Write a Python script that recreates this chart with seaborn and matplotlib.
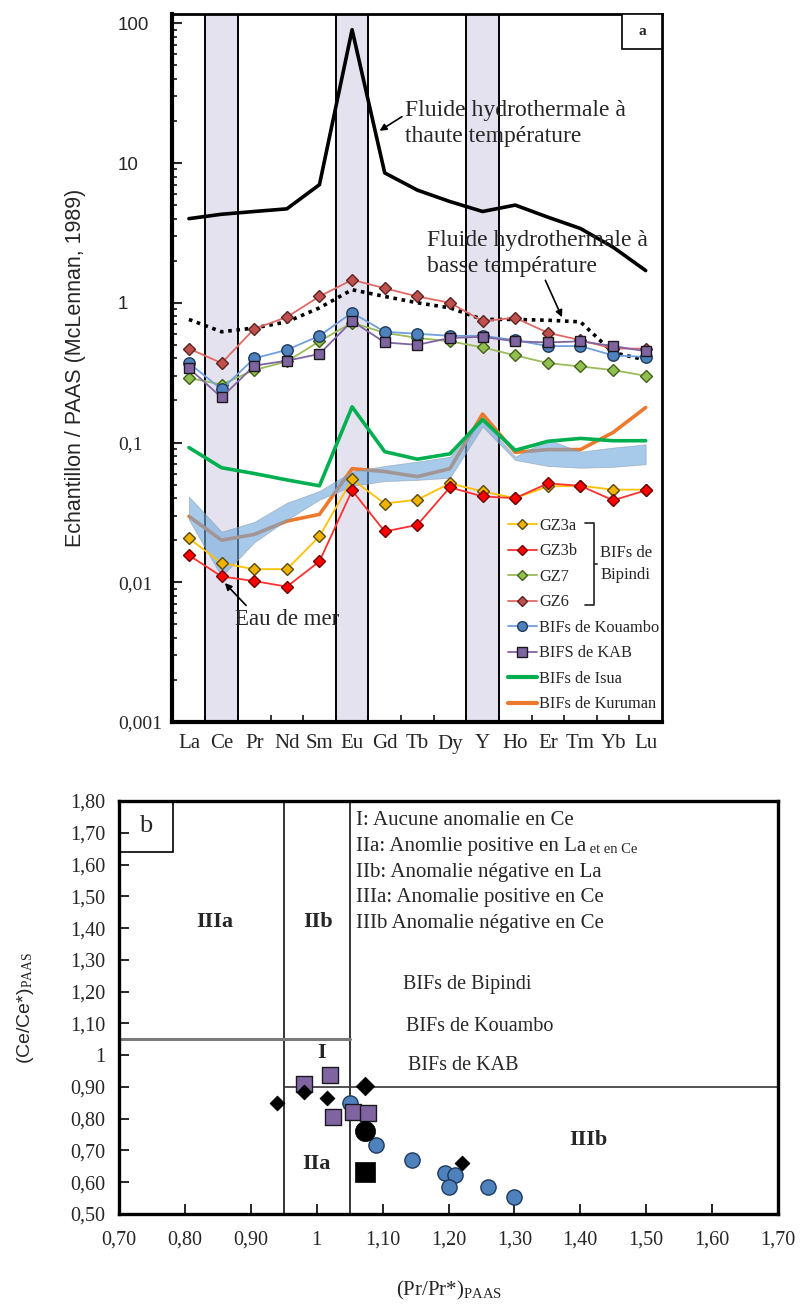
import numpy as np
import seaborn as sns
import matplotlib.pyplot as plt
from matplotlib.lines import Line2D
from matplotlib.patches import Rectangle

# ---- données figure a : spectres REE normalisés PAAS ----
ree = ['La', 'Ce', 'Pr', 'Nd', 'Sm', 'Eu', 'Gd', 'Tb', 'Dy', 'Y', 'Ho', 'Er', 'Tm', 'Yb', 'Lu']
fluide_haute = [4.0, 4.3, 4.5, 4.7, 7.0, 90, 8.5, 6.4, 5.3, 4.5, 5.0, 4.1, 3.4, 2.5, 1.7]
fluide_basse = [0.76, 0.62, 0.66, 0.73, 0.92, 1.24, 1.11, 1.0, 0.92, 0.76, 0.76, 0.75, 0.73, 0.44, 0.39]
gz3a = [0.0206, 0.0137, 0.0124, 0.0124, 0.0213, 0.0544, 0.0366, 0.039, 0.051, 0.0447, 0.040, 0.0485, 0.049, 0.046, 0.046]
gz3b = [0.0156, 0.011, 0.0102, 0.0093, 0.0141, 0.0454, 0.0231, 0.0257, 0.0478, 0.0411, 0.040, 0.051, 0.049, 0.0386, 0.0454]
gz7 = [0.29, 0.26, 0.33, 0.38, 0.53, 0.72, 0.61, 0.56, 0.53, 0.48, 0.42, 0.37, 0.35, 0.33, 0.30]
gz6 = [0.47, 0.37, 0.65, 0.79, 1.11, 1.46, 1.27, 1.11, 1.0, 0.74, 0.78, 0.61, 0.54, 0.47, 0.47]
kouambo = [0.37, 0.24, 0.40, 0.46, 0.58, 0.85, 0.62, 0.60, 0.58, 0.58, 0.54, 0.49, 0.49, 0.42, 0.41]
kab = [0.34, 0.21, 0.355, 0.385, 0.43, 0.74, 0.52, 0.50, 0.56, 0.57, 0.53, 0.52, 0.53, 0.49, 0.45]
isua = [0.092, 0.066, 0.06, 0.054, 0.049, 0.18, 0.086, 0.076, 0.083, 0.146, 0.088, 0.102, 0.107, 0.103, 0.103]
kuruman = [0.0296, 0.020, 0.022, 0.0274, 0.0306, 0.065, 0.062, 0.057, 0.065, 0.16, 0.085, 0.089, 0.089, 0.118, 0.178]
eau_mer_haut = [0.041, 0.023, 0.027, 0.037, 0.045, 0.062, 0.068, 0.073, 0.079, 0.146, 0.079, 0.105, 0.086, 0.092, 0.097]
eau_mer_bas = [0.028, 0.011, 0.0193, 0.028, 0.039, 0.049, 0.053, 0.054, 0.056, 0.13, 0.075, 0.068, 0.066, 0.067, 0.070]
bandes = [(0.5, 1.5), (4.5, 5.5), (8.5, 9.5)]   # Ce, Eu, Y
yticks_a = [0.001, 0.01, 0.1, 1, 10, 100]
ylabels_a = ['0,001', '0,01', '0,1', '1', '10', '100']

# ---- données figure b : Ce/Ce* vs Pr/Pr* ----
pr_bipindi = [0.94, 0.98, 1.015, 1.22]
ce_bipindi = [0.85, 0.885, 0.865, 0.66]
pr_kouambo = [1.05, 1.09, 1.145, 1.195, 1.21, 1.20, 1.26, 1.30]
ce_kouambo = [0.85, 0.717, 0.67, 0.63, 0.623, 0.585, 0.585, 0.555]
pr_kab = [0.98, 1.02, 1.025, 1.055, 1.078]
ce_kab = [0.909, 0.937, 0.805, 0.821, 0.817]
# gros symboles noirs (Bipindi, Kouambo, KAB)
pr_symb = [1.073, 1.073, 1.073]
ce_symb = [0.903, 0.761, 0.632]
xticks_b = [0.7, 0.8, 0.9, 1.0, 1.1, 1.2, 1.3, 1.4, 1.5, 1.6, 1.7]
xlabels_b = ['0,70', '0,80', '0,90', '1', '1,10', '1,20', '1,30', '1,40', '1,50', '1,60', '1,70']
yticks_b = [0.5, 0.6, 0.7, 0.8, 0.9, 1.0, 1.1, 1.2, 1.3, 1.4, 1.5, 1.6, 1.7, 1.8]
ylabels_b = ['0,50', '0,60', '0,70', '0,80', '0,90', '1', '1,10', '1,20', '1,30',
             '1,40', '1,50', '1,60', '1,70', '1,80']

sns.set_theme(style='white')
plt.rcParams['font.family'] = ['Liberation Serif', 'DejaVu Serif']
plt.rcParams['mathtext.fontset'] = 'custom'
plt.rcParams['mathtext.rm'] = 'Liberation Serif'
plt.rcParams['mathtext.it'] = 'Liberation Serif:italic'
plt.rcParams['mathtext.bf'] = 'Liberation Serif:bold'

W, H = 801, 1307
fig = plt.figure(figsize=(W / 100, H / 100), dpi=100)
ax1 = fig.add_axes([172 / W, 1 - 722 / H, 490 / W, 708.5 / H])
ax2 = fig.add_axes([119 / W, 1 - 1214 / H, 659 / W, 413 / H])

# ================= figure a =================
pos = np.arange(len(ree))
for a, b in bandes:
    ax1.axvspan(a, b, color='#e5e2f0', zorder=0, lw=0)
    ax1.axvline(a, color='black', lw=1.4, zorder=1)
    ax1.axvline(b, color='black', lw=1.4, zorder=1)

sns.lineplot(x=pos, y=kuruman, ax=ax1, color='#ec7a2e', linewidth=2.6, zorder=2)
ax1.fill_between(pos, eau_mer_bas, eau_mer_haut, color='#6fa8dc', alpha=0.6,
                 edgecolor='#8a9aaa', linewidth=0.6, zorder=3)
sns.lineplot(x=pos, y=isua, ax=ax1, color='#00b050', linewidth=2.6, zorder=4)
sns.lineplot(x=pos, y=fluide_haute, ax=ax1, color='black', linewidth=2.6, zorder=4)
sns.lineplot(x=pos, y=fluide_basse, ax=ax1, color='black', linewidth=2.6,
             linestyle=(0, (1, 1.3)), zorder=4)

series = [
    (gz3a, '#ffc000', '#f0b400', '#5a4a10', 'D', 5.8),
    (gz3b, '#ff3030', '#ff0000', '#700000', 'D', 5.8),
    (gz7, '#9bbb59', '#8fc050', '#44601c', 'D', 5.8),
    (gz6, '#e06a66', '#c0504d', '#5a2422', 'D', 5.8),
    (kouambo, '#6f9fdc', '#4f81bd', '#1e3a5c', 'o', 8.2),
    (kab, '#8064a2', '#8064a2', '#1a1a1a', 's', 7.8),
]
for vals, lc, fc, ec, mk, ms in series:
    sns.lineplot(x=pos, y=vals, ax=ax1, color=lc, linewidth=1.3, marker=mk,
                 markersize=ms, markerfacecolor=fc, markeredgecolor=ec,
                 markeredgewidth=1.0, zorder=6)

ax1.set_yscale('log')
ax1.set_ylim(0.001, 117.5)
ax1.set_xlim(-0.52, 14.5)
ax1.set_xticks(pos)
ax1.set_xticklabels(ree, fontsize=15)
ax1.set_xticks(np.arange(0.5, 14, 1), minor=True)
ax1.tick_params(axis='x', which='major', length=0, pad=9)
ax1.tick_params(axis='x', which='minor', direction='in', length=5, width=1.3, bottom=True)
ax1.set_yticks(yticks_a)
ax1.set_yticklabels(ylabels_a)
ax1.tick_params(axis='y', which='major', direction='in', length=7, width=1.5, left=True, pad=39)
ax1.tick_params(axis='y', which='minor', direction='in', length=3.5, width=1.3, left=True)
for lab in ax1.get_yticklabels():
    lab.set_ha('left')
    if ',' in lab.get_text():
        lab.set_fontfamily('Liberation Serif')
        lab.set_fontsize(14)
    else:
        lab.set_fontfamily('Liberation Sans')
        lab.set_fontsize(13.5)
ax1.set_ylabel('Echantillon / PAAS (McLennan, 1989)', fontsize=15.5,
               fontfamily='Liberation Sans', va='center')
ax1.yaxis.set_label_coords(-0.196, 0.5)
for side, lw in [('left', 3), ('bottom', 3), ('top', 2), ('right', 2)]:
    ax1.spines[side].set_linewidth(lw)
    ax1.spines[side].set_color('black')

# annotations
ax1.text(6.63, 19.1, 'Fluide hydrothermale à\nthaute température', fontsize=17,
         ha='left', va='center', linespacing=1.3, zorder=8)
ax1.annotate('', xy=(5.77, 16.6), xytext=(6.6, 22.0),
             arrowprops=dict(arrowstyle='-|>', color='black', lw=1.2, mutation_scale=10))
ax1.text(7.30, 2.26, 'Fluide hydrothermale à\nbasse température', fontsize=17,
         ha='left', va='center', linespacing=1.3, zorder=8)
ax1.annotate('', xy=(11.47, 0.756), xytext=(10.89, 1.51),
             arrowprops=dict(arrowstyle='-|>', color='black', lw=1.2, mutation_scale=10))
ax1.text(1.41, 0.0054, 'Eau de mer', fontsize=16.5, ha='left', va='center', zorder=8)
ax1.annotate('', xy=(1.04, 0.0102), xytext=(1.81, 0.0066),
             arrowprops=dict(arrowstyle='-|>', color='black', lw=1.2, mutation_scale=10))

# case "a"
ax1.add_patch(Rectangle((0.918, 0.95), 0.082, 0.05, transform=ax1.transAxes,
                        fill=True, facecolor='white', edgecolor='black', lw=1.2, zorder=9))
ax1.text(0.959, 0.975, 'a', transform=ax1.transAxes, ha='center', va='center',
         fontsize=11, fontweight='bold', zorder=10)

# légende
handles = [
    Line2D([], [], color='#ffc000', marker='D', ms=5, mfc='#f0b400', mec='#5a4a10', lw=1.3),
    Line2D([], [], color='#ff3030', marker='D', ms=5, mfc='#ff0000', mec='#700000', lw=1.3),
    Line2D([], [], color='#9bbb59', marker='D', ms=5, mfc='#8fc050', mec='#44601c', lw=1.3),
    Line2D([], [], color='#e06a66', marker='D', ms=5, mfc='#c0504d', mec='#5a2422', lw=1.3),
    Line2D([], [], color='#6f9fdc', marker='o', ms=7, mfc='#4f81bd', mec='#1e3a5c', lw=1.3),
    Line2D([], [], color='#8064a2', marker='s', ms=7, mfc='#8064a2', mec='#1a1a1a', lw=1.3),
    Line2D([], [], color='#00b050', lw=3),
    Line2D([], [], color='#ec7a2e', lw=3),
]
labels = ['GZ3a', 'GZ3b', 'GZ7', 'GZ6', 'BIFs de Kouambo', 'BIFS de KAB',
          'BIFs de Isua', 'BIFs de Kuruman']
ax1.legend(handles, labels, loc='upper left', bbox_to_anchor=(0.686, 0.288),
           frameon=False, fontsize=11.8, borderpad=0, borderaxespad=0,
           handlelength=1.75, handletextpad=0.15, labelspacing=0.58)
bx = [0.843, 0.862, 0.862, 0.843]
by = [0.281, 0.281, 0.165, 0.165]
ax1.plot(bx, by, transform=ax1.transAxes, color='#333333', lw=1.3, zorder=9)
ax1.plot([0.862, 0.868], [0.223, 0.223], transform=ax1.transAxes, color='#333333', lw=1.3, zorder=9)
ax1.text(0.874, 0.223, 'BIFs de\nBipindi', transform=ax1.transAxes, fontsize=12,
         ha='left', va='center', linespacing=1.45, zorder=9)

# ================= figure b =================
ax2.set_xlim(0.7, 1.7)
ax2.set_ylim(0.5, 1.8)
ax2.axvline(0.95, color='black', lw=1.1, zorder=1)
ax2.axvline(1.05, color='black', lw=1.1, zorder=1)
ax2.plot([0.7, 1.05], [1.05, 1.05], color='#7a7a7a', lw=2.2, zorder=1)
ax2.plot([0.95, 1.7], [0.9, 0.9], color='#333333', lw=1.2, zorder=1)

sns.scatterplot(x=pr_kouambo, y=ce_kouambo, ax=ax2, marker='o', s=120,
                color='#4f81bd', edgecolor='#1e3a5c', linewidth=1.0, zorder=3)
sns.scatterplot(x=pr_kab, y=ce_kab, ax=ax2, marker='s', s=135,
                color='#8064a2', edgecolor='#1a1a1a', linewidth=1.0, zorder=4)
sns.scatterplot(x=pr_bipindi, y=ce_bipindi, ax=ax2, marker='D', s=58,
                color='black', edgecolor='black', linewidth=0.5, zorder=5)
sns.scatterplot(x=pr_symb[:1], y=ce_symb[:1], ax=ax2, marker='D', s=90,
                color='black', edgecolor='black', linewidth=0.5, zorder=5)
sns.scatterplot(x=pr_symb[1:2], y=ce_symb[1:2], ax=ax2, marker='o', s=210,
                color='black', edgecolor='black', linewidth=0.5, zorder=5)
sns.scatterplot(x=pr_symb[2:], y=ce_symb[2:], ax=ax2, marker='s', s=210,
                color='black', edgecolor='black', linewidth=0.5, zorder=5)

ax2.set_xticks(xticks_b)
ax2.set_xticklabels(xlabels_b)
ax2.set_yticks(yticks_b)
ax2.set_yticklabels(ylabels_b)
ax2.tick_params(axis='both', direction='in', length=7, width=1.4, labelsize=14.5,
                bottom=True, left=True)
ax2.tick_params(axis='x', pad=12)
ax2.tick_params(axis='y', pad=10)
for side in ['left', 'bottom', 'top', 'right']:
    ax2.spines[side].set_linewidth(2.4)
    ax2.spines[side].set_color('black')

ax2.set_xlabel(r'(Pr/Pr*)$_{\mathrm{PAAS}}$', fontsize=15, va='center')
ax2.xaxis.set_label_coords(0.5, -0.184)
ax2.set_ylabel(r'(Ce/Ce*)$_{\mathrm{PAAS}}$', fontsize=14, fontfamily='Liberation Sans',
               va='center')
ax2.yaxis.set_label_coords(-0.1426, 0.5)

ax2.add_patch(Rectangle((0.7, 1.641), 0.082, 0.159, fill=False, edgecolor='black', lw=1.2))
ax2.text(0.741, 1.72, 'b', fontsize=19, ha='center', va='center')

for txt, x, y in [('IIIa', 0.846, 1.418), ('IIb', 1.002, 1.418), ('I', 1.007, 1.006),
                  ('IIa', 1.0, 0.657), ('IIIb', 1.412, 0.733)]:
    ax2.text(x, y, txt, fontsize=16, fontweight='bold', ha='center', va='center')

ax2.text(1.06, 1.739, 'I: Aucune anomalie en Ce', fontsize=15, va='center')
t = ax2.text(1.06, 1.657, 'IIa: Anomlie positive en La', fontsize=15, va='center')
ax2.annotate(' et en Ce', xy=(1, 0), xycoords=t, fontsize=10.5, va='bottom', ha='left')
ax2.text(1.06, 1.575, 'IIb: Anomalie négative en La', fontsize=15, va='center')
ax2.text(1.06, 1.497, 'IIIa: Anomalie positive en Ce', fontsize=15, va='center')
ax2.text(1.06, 1.415, 'IIIb Anomalie négative en Ce', fontsize=15, va='center')
ax2.text(1.131, 1.223, 'BIFs de Bipindi', fontsize=14.5, va='center')
ax2.text(1.136, 1.091, 'BIFs de Kouambo', fontsize=14.5, va='center')
ax2.text(1.139, 0.969, 'BIFs de KAB', fontsize=14.5, va='center')

fig.savefig('out.png', dpi=100)
